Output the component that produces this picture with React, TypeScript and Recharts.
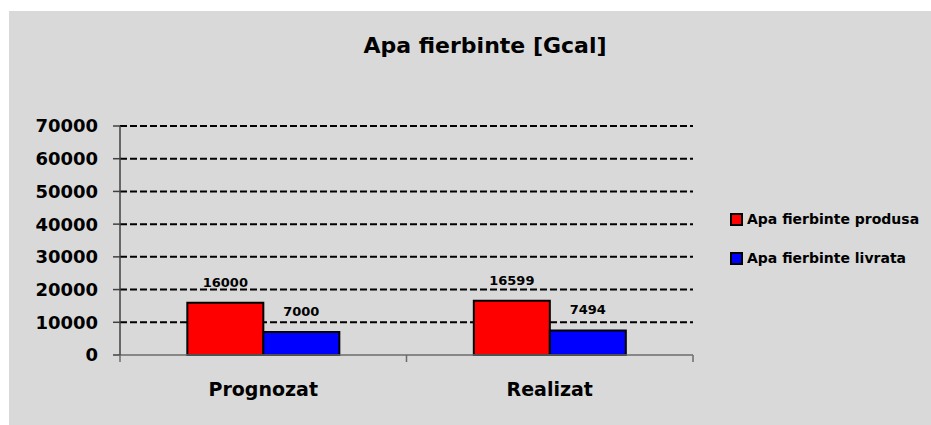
import React from 'react';
import {
  BarChart,
  Bar,
  XAxis,
  YAxis,
  CartesianGrid,
  LabelList,
} from 'recharts';

const categories = ['Prognozat', 'Realizat'];
const produsa = [16000, 16599];
const livrata = [7000, 7494];
const yTicks = [0, 10000, 20000, 30000, 40000, 50000, 60000, 70000];

const series = [
  { key: 'produsa', name: 'Apa fierbinte produsa', color: '#ff0000' },
  { key: 'livrata', name: 'Apa fierbinte livrata', color: '#0000ff' },
];

const data = categories.map((name, i) => ({
  name,
  produsa: produsa[i],
  livrata: livrata[i],
}));

const FONT = '"DejaVu Sans", sans-serif';

const W = 931;
const H = 425;
const PLOT_LEFT = 120;
const PLOT_RIGHT = 693;
const PLOT_TOP = 126;
const PLOT_BOTTOM = 355;
const BAND = (PLOT_RIGHT - PLOT_LEFT) / categories.length;

const CategoryTick = (props: any) => {
  const { x, payload, index } = props;
  const left = x - BAND / 2;
  const right = x + BAND / 2;
  const y = PLOT_BOTTOM;
  return (
    <g>
      <line x1={left} y1={y} x2={left} y2={y + 7} stroke="#6b6b6b" strokeWidth={1.5} />
      {index === categories.length - 1 && (
        <line x1={right} y1={y} x2={right} y2={y + 7} stroke="#6b6b6b" strokeWidth={1.5} />
      )}
      <text
        x={x}
        y={y + 34}
        textAnchor="middle"
        dominantBaseline="central"
        fontFamily={FONT}
        fontWeight="bold"
        fontSize={19}
        fill="#000"
      >
        {payload.value}
      </text>
    </g>
  );
};

export default function App() {
  return (
    <div style={{ position: 'absolute', left: 0, top: 0, width: W, height: H, background: '#fff' }}>
      {/* chart area background */}
      <div
        style={{
          position: 'absolute',
          left: 9,
          top: 11,
          width: W - 9,
          height: H - 11,
          background: '#d9d9d9',
        }}
      />
      <div
        style={{
          position: 'absolute',
          left: 0,
          top: 33,
          width: 970,
          textAlign: 'center',
          fontFamily: FONT,
          fontWeight: 'bold',
          fontSize: 22,
          color: '#000',
        }}
      >
        Apa fierbinte [Gcal]
      </div>
      <div style={{ position: 'absolute', left: 0, top: 0 }}>
        <BarChart
          width={W}
          height={H}
          data={data}
          margin={{ top: PLOT_TOP, right: W - PLOT_RIGHT, bottom: 0, left: 0 }}
          barCategoryGap="23.5%"
          barGap={0}
        >
          <CartesianGrid
            vertical={false}
            horizontalValues={yTicks.filter((t) => t > 0)}
            stroke="#000"
            strokeWidth={2}
            strokeDasharray="7 3"
          />
          <XAxis
            dataKey="name"
            height={H - PLOT_BOTTOM}
            axisLine={{ stroke: '#6b6b6b', strokeWidth: 1.5 }}
            tickLine={false}
            tick={<CategoryTick />}
            interval={0}
          />
          <YAxis
            width={PLOT_LEFT}
            domain={[0, 70000]}
            ticks={yTicks}
            interval={0}
            axisLine={{ stroke: '#404040', strokeWidth: 1.5 }}
            tickLine={{ stroke: '#404040', strokeWidth: 1.5 }}
            tickSize={7}
            tickMargin={15}
            tick={{ fill: '#000', fontSize: 18, fontWeight: 'bold', fontFamily: FONT }}
          />
          {series.map((s) => (
            <Bar
              key={s.key}
              dataKey={s.key}
              name={s.name}
              fill={s.color}
              stroke="#000"
              strokeWidth={2}
              isAnimationActive={false}
            >
              <LabelList
                dataKey={s.key}
                position="top"
                offset={16}
                fill="#000"
                fontSize={13}
                fontWeight="bold"
                fontFamily={FONT}
              />
            </Bar>
          ))}
        </BarChart>
      </div>
      {/* legend */}
      <div
        style={{
          position: 'absolute',
          left: 730,
          top: 209,
          fontFamily: FONT,
          fontWeight: 'bold',
          fontSize: 14,
        }}
      >
        {series.map((s, i) => (
          <div
            key={s.key}
            style={{ display: 'flex', alignItems: 'center', height: 20, marginBottom: i === 0 ? 19 : 0 }}
          >
            <span
              style={{
                width: 9,
                height: 9,
                background: s.color,
                border: '2px solid #000',
                marginRight: 4,
                display: 'inline-block',
              }}
            />
            <span style={{ color: '#000' }}>{s.name}</span>
          </div>
        ))}
      </div>
    </div>
  );
}
